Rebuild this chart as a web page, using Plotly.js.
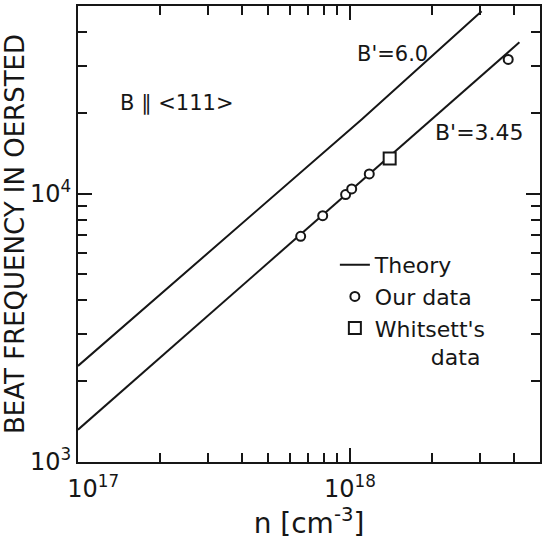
<!DOCTYPE html>
<html><head><meta charset="utf-8">
<script src="https://cdn.plot.ly/plotly-3.0.1.min.js"></script>
<style>html,body{margin:0;padding:0;background:#fff}</style>
</head><body><div id="chart" style="width:542px;height:541px"></div>
<script>
// Theory curves
const theoryHighN = [1e17, 1.104e18, 3.05e18];
const theoryHighB = [2280, 18880, 47800];
const theoryLowN = [1e17, 4.2e18];
const theoryLowB = [1320, 36600];
// Measured points
const ourN = [6.59e17, 7.94e17, 9.64e17, 1.015e18, 1.178e18, 3.82e18];
const ourB = [6930, 8278, 9915, 10410, 11843, 31623];
const whitN = [1.40e18];
const whitB = [13510];
// Ticks
const xMajor = [1e17, 1e18];
const xMajorText = ['\u00a0\u00a0\u00a0\u00a010<sup>17</sup>', '10<sup>18</sup>'];
const xMinor = [2e17, 3e17, 4e17, 5e17, 6e17, 7e17, 8e17, 9e17, 2e18, 3e18, 4e18];
const yMajor = [1e3, 1e4];
const yMajorText = ['10<sup>3</sup>', '10<sup>4</sup>'];
const yMinor = [2e3, 3e3, 4e3, 5e3, 6e3, 7e3, 8e3, 9e3, 2e4, 3e4, 4e4];

const ink = '#161616';
const traces = [
  {x: theoryHighN, y: theoryHighB, mode: 'lines', name: 'Theory', line: {color: ink, width: 2}, showlegend: true},
  {x: theoryLowN, y: theoryLowB, mode: 'lines', name: 'Theory', line: {color: ink, width: 2}, showlegend: false},
  {x: ourN, y: ourB, mode: 'markers', name: 'Our data',
   marker: {symbol: 'circle', size: 9, color: '#fff', line: {color: ink, width: 2}}},
  {x: whitN, y: whitB, mode: 'markers', name: 'Whitsett\'s<br>\u00a0\u00a0\u00a0\u00a0\u00a0\u00a0\u00a0\u00a0data',
   marker: {symbol: 'square', size: 12, color: '#fff', line: {color: ink, width: 2}}}
];

const axisCommon = {
  type: 'log', showline: true, linewidth: 2, linecolor: ink, mirror: 'ticks',
  ticks: 'inside', ticklen: 14, tickwidth: 2, tickcolor: ink,
  showgrid: false, zeroline: false, tickfont: {size: 24, color: ink}
};

const layout = {
  width: 542, height: 541,
  margin: {l: 78, r: 2, t: 6, b: 79},
  paper_bgcolor: '#fff', plot_bgcolor: '#fff',
  font: {family: 'DejaVu Sans', color: ink},
  xaxis: Object.assign({}, axisCommon, {
    range: [17, Math.log10(5e18)],
    tickmode: 'array', tickvals: xMajor, ticktext: xMajorText,
    ticklabelstandoff: 4,
    minor: {tickmode: 'array', tickvals: xMinor, ticks: 'inside', ticklen: 9, tickwidth: 2, tickcolor: ink, showgrid: false},
    title: {text: 'n [cm<sup>-3</sup>]', font: {size: 28, color: ink}, standoff: 8}
  }),
  yaxis: Object.assign({}, axisCommon, {
    range: [3, Math.log10(5e4)],
    tickmode: 'array', tickvals: yMajor, ticktext: yMajorText,
    minor: {tickmode: 'array', tickvals: yMinor, ticks: 'inside', ticklen: 9, tickwidth: 2, tickcolor: ink, showgrid: false},
    title: {text: 'BEAT FREQUENCY IN OERSTED', font: {size: 26, color: ink}, standoff: 2}
  }),
  legend: {x: 0.556, y: 0.478, xanchor: 'left', yanchor: 'top', bgcolor: 'rgba(0,0,0,0)',
    font: {size: 22, color: ink}, itemwidth: 30, tracegroupgap: 0, valign: 'top'},
  showlegend: true,
  annotations: [
    {text: 'B \u2225 <111>', xref: 'paper', yref: 'paper', x: 0.214, y: 0.787, showarrow: false, font: {size: 21, color: ink}, xanchor: 'center', yanchor: 'middle'},
    {text: "B'=6.0", xref: 'paper', yref: 'paper', x: 0.680, y: 0.895, showarrow: false, font: {size: 21, color: ink}, xanchor: 'center', yanchor: 'middle'},
    {text: "B'=3.45", xref: 'paper', yref: 'paper', x: 0.870, y: 0.7215, showarrow: false, font: {size: 22, color: ink}, xanchor: 'center', yanchor: 'middle'}
  ]
};

Plotly.newPlot('chart', traces, layout, {displayModeBar: false, staticPlot: true});
</script>
</body></html>
